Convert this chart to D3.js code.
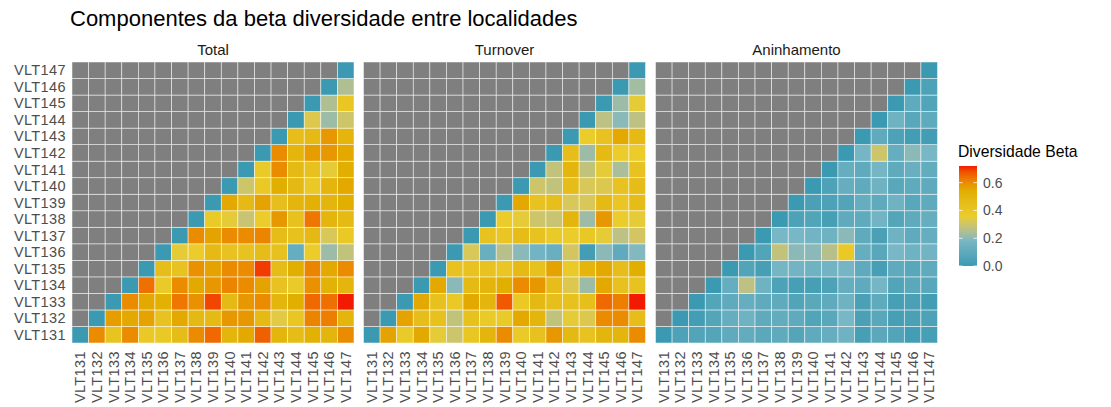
<!DOCTYPE html>
<html>
<head>
<meta charset="utf-8">
<script src="https://cdn.jsdelivr.net/npm/d3@7"></script>
<style>
  body { margin: 0; background: #fff; }
  text { font-family: "Liberation Sans", Arial, sans-serif; }
</style>
</head>
<body>
<script>
// sites (same order on both axes)
const sites = ['VLT131', 'VLT132', 'VLT133', 'VLT134', 'VLT135', 'VLT136', 'VLT137', 'VLT138', 'VLT139',
    'VLT140', 'VLT141', 'VLT142', 'VLT143', 'VLT144', 'VLT145', 'VLT146', 'VLT147'];

const facets = ['Total', 'Turnover', 'Aninhamento'];

// each row i holds the values for columns i..16 (diagonal first)
const totalValues = [
    [0, 0.60, 0.41, 0.60, 0.38, 0.38, 0.46, 0.60, 0.65, 0.50, 0.55, 0.66, 0.50, 0.46, 0.53, 0.50, 0.60],
    [0, 0.57, 0.55, 0.56, 0.42, 0.55, 0.48, 0.47, 0.58, 0.58, 0.47, 0.34, 0.40, 0.61, 0.62, 0.50],
    [0, 0.60, 0.55, 0.53, 0.63, 0.59, 0.69, 0.47, 0.58, 0.60, 0.50, 0.54, 0.65, 0.64, 0.72],
    [0, 0.64, 0.37, 0.60, 0.55, 0.58, 0.61, 0.60, 0.56, 0.42, 0.37, 0.59, 0.52, 0.50],
    [0, 0.45, 0.42, 0.59, 0.56, 0.60, 0.60, 0.70, 0.46, 0.54, 0.61, 0.55, 0.60],
    [0, 0.35, 0.36, 0.47, 0.42, 0.42, 0.46, 0.43, 0.12, 0.36, 0.22, 0.28],
    [0, 0.60, 0.56, 0.60, 0.60, 0.61, 0.46, 0.43, 0.48, 0.32, 0.38],
    [0, 0.37, 0.35, 0.29, 0.36, 0.58, 0.43, 0.63, 0.50, 0.47],
    [0, 0.55, 0.47, 0.56, 0.44, 0.50, 0.53, 0.50, 0.54],
    [0, 0.30, 0.38, 0.54, 0.48, 0.38, 0.50, 0.55],
    [0, 0.37, 0.60, 0.47, 0.43, 0.35, 0.54],
    [0, 0.60, 0.50, 0.57, 0.58, 0.55],
    [0, 0.45, 0.47, 0.58, 0.50],
    [0, 0.33, 0.22, 0.30],
    [0, 0.25, 0.40],
    [0, 0.25],
    [0]
];

const turnoverValues = [
    [0, 0.56, 0.37, 0.55, 0.35, 0.30, 0.40, 0.50, 0.60, 0.37, 0.43, 0.58, 0.48, 0.42, 0.50, 0.50, 0.60],
    [0, 0.56, 0.45, 0.43, 0.28, 0.43, 0.37, 0.37, 0.55, 0.50, 0.28, 0.35, 0.33, 0.60, 0.60, 0.45],
    [0, 0.55, 0.43, 0.38, 0.55, 0.50, 0.67, 0.38, 0.48, 0.44, 0.43, 0.44, 0.65, 0.62, 0.72],
    [0, 0.55, 0.20, 0.47, 0.50, 0.54, 0.60, 0.58, 0.45, 0.33, 0.22, 0.55, 0.43, 0.42],
    [0, 0.42, 0.42, 0.42, 0.40, 0.47, 0.43, 0.56, 0.37, 0.50, 0.55, 0.45, 0.54],
    [0, 0.32, 0.13, 0.26, 0.20, 0.16, 0.13, 0.31, 0.02, 0.20, 0.10, 0.19],
    [0, 0.42, 0.40, 0.46, 0.42, 0.37, 0.36, 0.39, 0.35, 0.27, 0.31],
    [0, 0.36, 0.35, 0.30, 0.29, 0.50, 0.22, 0.58, 0.36, 0.35],
    [0, 0.55, 0.42, 0.44, 0.32, 0.32, 0.47, 0.40, 0.46],
    [0, 0.30, 0.28, 0.46, 0.32, 0.33, 0.42, 0.46],
    [0, 0.28, 0.50, 0.28, 0.35, 0.24, 0.42],
    [0, 0.45, 0.22, 0.47, 0.36, 0.36],
    [0, 0.36, 0.42, 0.55, 0.47],
    [0, 0.27, 0.20, 0.27],
    [0, 0.22, 0.35],
    [0, 0.23],
    [0]
];

const nestednessValues = [
    [0, 0.05, 0.06, 0.07, 0.10, 0.11, 0.09, 0.10, 0.07, 0.10, 0.12, 0.15, 0.03, 0.09, 0.06, 0.02, 0.03],
    [0, 0.02, 0.07, 0.12, 0.15, 0.10, 0.11, 0.10, 0.06, 0.08, 0.18, 0.04, 0.08, 0.03, 0.04, 0.05],
    [0, 0.07, 0.10, 0.12, 0.10, 0.10, 0.06, 0.09, 0.10, 0.15, 0.04, 0.10, 0.03, 0.04, 0.02],
    [0, 0.12, 0.27, 0.15, 0.05, 0.03, 0.03, 0.05, 0.12, 0.10, 0.17, 0.06, 0.09, 0.08],
    [0, 0.06, 0.03, 0.17, 0.16, 0.15, 0.16, 0.17, 0.10, 0.03, 0.10, 0.08, 0.10],
    [0, 0.06, 0.28, 0.20, 0.20, 0.26, 0.38, 0.12, 0.08, 0.18, 0.15, 0.16],
    [0, 0.18, 0.18, 0.16, 0.15, 0.20, 0.10, 0.04, 0.15, 0.10, 0.12],
    [0, 0.05, 0.06, 0.03, 0.10, 0.10, 0.16, 0.07, 0.10, 0.12],
    [0, 0.04, 0.05, 0.06, 0.12, 0.10, 0.15, 0.08, 0.10],
    [0, 0.05, 0.12, 0.10, 0.15, 0.08, 0.10, 0.10],
    [0, 0.12, 0.10, 0.17, 0.10, 0.13, 0.11],
    [0, 0.17, 0.30, 0.12, 0.20, 0.18],
    [0, 0.10, 0.05, 0.02, 0.02],
    [0, 0.15, 0.08, 0.10],
    [0, 0.10, 0.06],
    [0, 0.05],
    [0]
];

const legendBreaks = [0, 0.2, 0.4, 0.6];
const palette = ['#3B9AB2', '#78B7C5', '#EBCC2A', '#E1AF00', '#F21A00'];

const width = 1111, height = 407;
const panelW = 282, panelH = 281, panelTop = 62;
const panelLeft = [72, 363.5, 655.5];

// long format table
let cells = [];
[totalValues, turnoverValues, nestednessValues].forEach((rows, f) => {
    sites.forEach((rowSite, i) => {
        sites.forEach((colSite, j) => {
            let v = j >= i ? rows[i][j - i] : null;
            cells.push({facet: facets[f], row: rowSite, col: colSite, value: v});
        });
    });
});

const maxVal = d3.max(cells, d => d.value);
const color = d3.scaleLinear()
    .domain(palette.map((c, i) => i / (palette.length - 1) * maxVal))
    .range(palette)
    .interpolate(d3.interpolateLab);

const x = d3.scaleBand().domain(sites).range([0, panelW]);
const y = d3.scaleBand().domain(sites).range([panelH, 0]);

const svg = d3.select('body').append('svg')
    .attr('width', width)
    .attr('height', height);

svg.append('text')
    .attr('x', 70)
    .attr('y', 26)
    .style('font-size', '22px')
    .attr('fill', '#000')
    .text('Componentes da beta diversidade entre localidades');

facets.forEach((name, f) => {
    const g = svg.append('g')
        .attr('transform', `translate(${panelLeft[f]},${panelTop})`);

    g.append('text')
        .attr('x', panelW / 2)
        .attr('y', -7)
        .attr('text-anchor', 'middle')
        .style('font-size', '15px')
        .attr('fill', '#1a1a1a')
        .text(name);

    g.selectAll('rect')
        .data(cells.filter(d => d.facet === name))
        .join('rect')
        .attr('x', d => x(d.col))
        .attr('y', d => y(d.row))
        .attr('width', x.bandwidth())
        .attr('height', y.bandwidth())
        .attr('fill', d => d.value === null ? '#7f7f7f' : color(d.value))
        .attr('stroke', '#ffffff')
        .attr('stroke-opacity', 0.7)
        .attr('stroke-width', 0.7);

    // x axis labels (rotated)
    g.append('g')
        .selectAll('text')
        .data(sites)
        .join('text')
        .attr('transform', d => `translate(${x(d) + x.bandwidth() / 2},${panelH + 8}) rotate(-90)`)
        .attr('text-anchor', 'end')
        .attr('dy', '0.35em')
        .style('font-size', '14.5px')
        .style('letter-spacing', '0.4px')
        .attr('fill', '#4d4d4d')
        .text(d => d);

    if (f === 0) {
        g.append('g')
            .selectAll('text')
            .data(sites)
            .join('text')
            .attr('x', -6)
            .attr('y', d => y(d) + y.bandwidth() / 2)
            .attr('dy', '0.35em')
            .attr('text-anchor', 'end')
            .style('font-size', '14.5px')
            .style('letter-spacing', '0.4px')
            .attr('fill', '#4d4d4d')
            .text(d => d);
    }
});

// legend
const legY = d3.scaleLinear().domain([0, maxVal]).range([266, 166]);
const barX = 959, barW = 18;

const grad = svg.append('defs').append('linearGradient')
    .attr('id', 'legend-grad')
    .attr('x1', 0).attr('x2', 0).attr('y1', 1).attr('y2', 0);
d3.range(0, 1.0001, 0.05).forEach(t => {
    grad.append('stop')
        .attr('offset', t)
        .attr('stop-color', color(t * maxVal));
});

svg.append('text')
    .attr('x', 958)
    .attr('y', 157)
    .style('font-size', '15.7px')
    .attr('fill', '#000')
    .text('Diversidade Beta');

svg.append('rect')
    .attr('x', barX)
    .attr('y', legY(maxVal))
    .attr('width', barW)
    .attr('height', legY(0) - legY(maxVal))
    .attr('fill', 'url(#legend-grad)');

const tick = svg.append('g').selectAll('g')
    .data(legendBreaks)
    .join('g')
    .attr('transform', d => `translate(0,${legY(d)})`);

tick.append('line')
    .attr('x1', barX).attr('x2', barX + 3.5)
    .attr('stroke', '#fff').attr('stroke-width', 0.8);
tick.append('line')
    .attr('x1', barX + barW - 3.5).attr('x2', barX + barW)
    .attr('stroke', '#fff').attr('stroke-width', 0.8);
tick.append('text')
    .attr('x', barX + barW + 6)
    .attr('dy', '0.35em')
    .style('font-size', '14px')
    .attr('fill', '#4d4d4d')
    .text(d => d3.format('.1f')(d));
</script>
</body>
</html>
